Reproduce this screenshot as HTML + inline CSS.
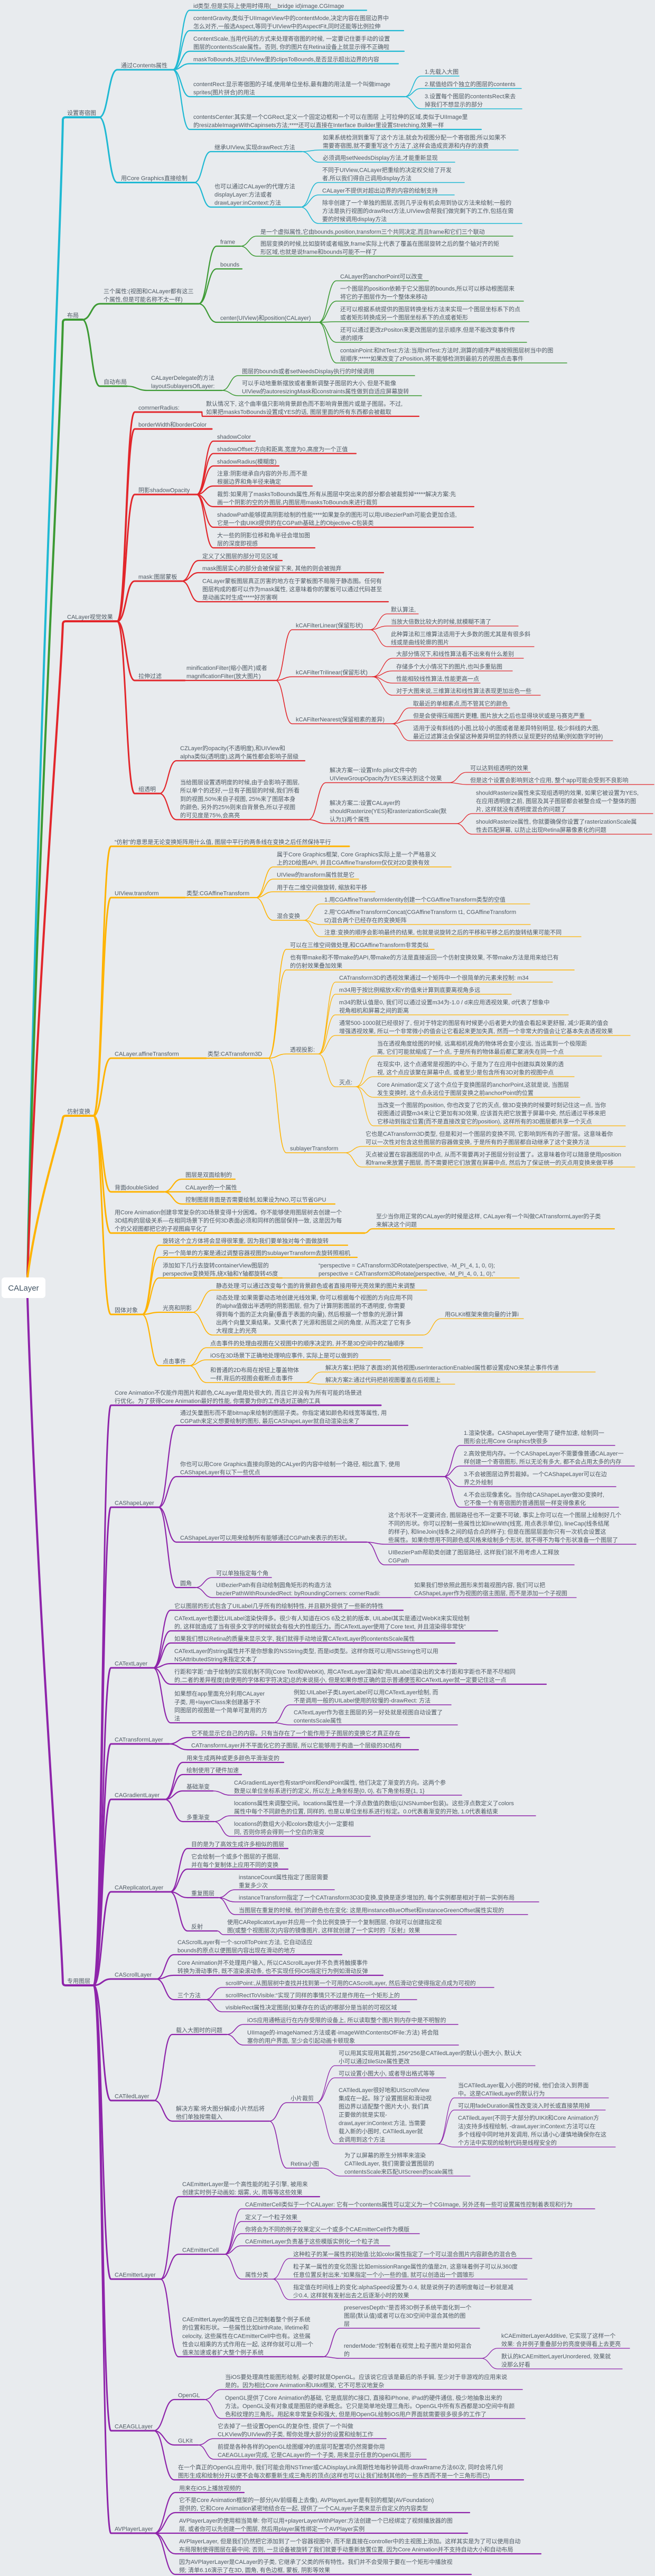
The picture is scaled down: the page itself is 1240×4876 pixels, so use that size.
<!DOCTYPE html>
<html><head><meta charset="utf-8">
<style>
html,body{margin:0;padding:0;background:#e8ebee;}
svg{display:block;}
text{font-family:"Liberation Sans","Noto Sans CJK SC",sans-serif;font-size:11px;fill:#4f5a64;}
</style></head>
<body>
<svg id="m" width="1240" height="4876" viewBox="0 0 1240 4876" xmlns="http://www.w3.org/2000/svg">
<rect width="1240" height="4876" fill="#e8ebee"/>
<g id="lines" fill="none" stroke-linecap="round"></g>
<g id="texts"></g>
<rect x="3" y="2418" width="83" height="39" rx="6" fill="#ffffff"/>
<text x="44.5" y="2443" text-anchor="middle" style="font-size:15px;fill:#3f5262">CALayer</text>
</svg>
<script>
function N(tx,uy,ex,t,k){return [tx,uy,ex,t,k||[]];}
var C1="#1fb9d3",C2="#3c9a33",C3="#e2262b",C4="#ffb300",C5="#8e24aa";
var tree=[
[C1,N(127,222,188,"设置寄宿图",[
 N(229,132,327,"通过Contents属性",[
  N(366,19.5,694,"id类型,但是实际上使用时得用(__bridge id)image.CGImage"),
  N(366,58,764,"contentGravity,类似于UIImageView中的contentMode,决定内容在图层边界中\n怎么对齐,一般选Aspect,等同于UIView中的AspectFit,同时还能等比例拉伸"),
  N(366,97,765,"ContentScale,当用代码的方式来处理寄宿图的时候, 一定要记住要手动的设置\n图层的contentsScale属性。否则, 你的图片在Retina设备上就显示得不正确啦"),
  N(366,120.6,754,"maskToBounds,对应UIView里的clipsToBounds,是否显示超出边界的内容"),
  N(366,183,766,"contentRect:显示寄宿图的子域,使用单位坐标,最有趣的用法是一个叫做image\nsprites(图片拼合)的用法",[
   N(804,144,869,"1.先载入大图"),
   N(804,167.5,987,"2.赋值给四个独立的图层的contents"),
   N(804,206,988,"3.设置每个图层的contentsRect来去\n掉我们不想显示的部分")]),
  N(366,245,911,"contentsCenter:其实是一个CGRect,定义一个固定边框和一个可以在图层 上可拉伸的区域,类似于UIImage里\n的resizableImageWithCapinsets方法;****还可以直接在Interface Builder里设置Stretching,效果一样")]),
 N(229,345.5,368,"用Core Graphics直接绘制",[
  N(406,287,571,"继承UIView,实现drawRect:方法",[
   N(611,284,981,"如果系统检测到重写了这个方法,就会为视图分配一个寄宿图;所以如果不\n需要寄宿图,就不要重写这个方法了,这样会造成资源和内存的浪费"),
   N(611,307,861,"必须调用setNeedsDisplay方法,才能重新显现")]),
  N(406,392,569,"也可以通过CALayer的代理方法\ndisplayLayer:方法或者\ndrawLayer:inContext:方法",[
   N(610,345.5,879,"不同于UIView,CALayer把重绘的决定权交给了开发\n者,所以我们得自己调用display方法"),
   N(610,369,860,"CALayer不提供对超出边界的内容的绘制支持"),
   N(610,423,988,"除非创建了一个单独的图层,否则几乎没有机会用到协议方法来绘制;一般的\n方法是执行视图的drawRect方法,UIView会帮我们做完剩下的工作,包括在需\n要的时候调用display方法")])])])],
[C2,N(127,605,156,"布局",[
 N(196,575,376,"三个属性:(视图和CALayer都有这三\n个属性,但是可能名称不太一样)",[
  N(417,466,455,"frame",[
   N(493,447,971,"是一个虚拟属性,它由bounds,position,transform三个共同决定,而且frame和它们三个联动"),
   N(493,485,971,"图层变换的时候,比如旋转或者缩放,frame实际上代表了覆盖在图层旋转之后的整个轴对齐的矩\n形区域,也就是说frame和bounds可能不一样了")]),
  N(417,509,458,"bounds"),
  N(417,610,603,"center(UIView)和position(CALayer)",[
   N(644,531.5,811,"CALayer的anchorPoint可以改变"),
   N(644,570,991,"一个图层的position依赖于它父图层的bounds,所以可以移动根图层来\n将它的子图层作为一个整体来移动"),
   N(644,609,1001,"还可以根据系统提供的图层转换坐标方法来实现一个图层坐标系下的点\n或者矩形转换成另一个图层坐标系下的点或者矩形"),
   N(644,648,997,"还可以通过更改zPositon来更改图层的显示顺序,但是不能改变事件传\n递的顺序"),
   N(644,687,1073,"containPoint:和hitTest:方法:当用hitTest:方法时,测算的顺序严格按照图层树当中的图\n层顺序;*****如果改变了zPosition,将不能够检测到最前方的视图点击事件")])]),
 N(196,731,240,"自动布局",[
  N(286,739,420,"CALayerDelegate的方法\nlayoutSublayersOfLayer:",[
   N(458,711,785,"图层的bounds或者setNeedsDisplay执行的时候调用"),
   N(458,749,798,"可以手动地重新摆放或者重新调整子图层的大小, 但是不能像\nUIView的autoresizingMask和constraints属性做到自适应屏幕旋转")])])])],
[C3,N(127,1176,222,"CALayer视觉效果",[
 N(262,780,382,"comrnerRadius:",[
  N(390,788,793,"默认情况下, 这个曲率值只影响背景颜色而不影响背景图片或是子图层。不过,\n如果把masksToBounds设置成YES的话, 图层里面的所有东西都会被截取")]),
 N(262,812,401,"borderWidth和borderColor"),
 N(262,936,372,"阴影shadowOpacity",[
  N(411,835,483,"shadowColor"),
  N(411,858.5,674,"shadowOffset:方向和距离,宽度为0,高度为一个正值"),
  N(411,882,528,"shadowRadius(模糊度)"),
  N(411,920,591,"注意:阴影继承自内容的外形,而不是\n根据边界和角半径来确定"),
  N(411,959,897,"裁剪:如果用了masksToBounds属性,所有从图层中突出来的部分都会被裁剪掉*****解决方案:先\n画一个阴影的空的外图层,内图层用masksToBounds来进行裁剪"),
  N(411,998,896,"shadowPath能够提高阴影绘制的性能****如果复杂的图形可以用UIBezierPath可能会更加合适,\n它是一个由UIKit提供的在CGPath基础上的Objective-C包装类"),
  N(411,1037,596,"大一些的阴影位移和角半径会增加图\n层的深度即视感")]),
 N(262,1100,344,"mask:图层蒙板",[
  N(383,1061,534,"定义了父图层的部分可见区域"),
  N(383,1084,726,"mask图层实心的部分会被保留下来, 其他的则会被抛弃"),
  N(383,1139,735,"CALayer蒙板图层真正厉害的地方在于蒙板图不局限于静态图。任何有\n图层构成的都可以作为mask属性, 这意味着你的蒙板可以通过代码甚至\n是动画实时生成*****好厉害啊")]),
 N(262,1288,350,"拉伸过滤",[
  N(353,1288,522,"minificationFilter(缩小图片)或者\nmagnificationFilter(放大图片)",[
   N(560,1192,700,"kCAFilterLinear(保留形状)",[
    N(740,1162,792,"默认算法,"),
    N(740,1185,981,"当放大倍数比较大的时候,就模糊不清了"),
    N(740,1224,1011,"此种算法和三维算法适用于大多数的图尤其是有很多斜\n线或是曲线轮廓的图片")]),
   N(560,1281,705,"kCAFilterTrilinear(保留形状)",[
    N(750,1246,991,"大部分情况下,和线性算法看不出来有什么差别"),
    N(750,1270,970,"存储多个大小情况下的图片,也叫多重贴图"),
    N(750,1293,909,"性能相较线性算法,性能更高一点"),
    N(750,1316,1023,"对于大图来说,三维算法和线性算法表现更加出色一些")]),
   N(560,1370,742,"kCAFilterNearest(保留相素的差异)",[
    N(782,1340,965,"取最近的单相素点,而不管其它的颜色"),
    N(782,1363,1119,"但是会使得压缩图片更糟, 图片放大之后也显得块状或是马赛克严重"),
    N(782,1402,1160,"适用于没有斜线的小图,比较小的图或者是差异特别明显, 极少斜线的大图,\n最近过滤算法会保留这种差异明显的特质以呈现更好的结果(例如数字时钟)")])])]),
 N(262,1502,302,"组透明",[
  N(341,1440,577,"CZLayer的opacity(不透明度),和UIView和\nalpha类似(透明度),这两个属性都会影响子层级"),
  N(341,1551.5,584,"当给图层设置透明度的时候,由于会影响子图层,\n所以单个的还好,一旦有子图层的时候,我们所看\n到的视图,50%来自子视图, 25%来了图层本身\n的颜色, 另外的25%则来自背景色,所以子视图\n的可见度是75%,会高亮",[
   N(624,1481.5,850,"解决方案一:设置Info.plist文件中的\nUIViewGroupOpacity为YES来达到这个效果",[
    N(890,1462,1004,"可以达到组透明的效果"),
    N(890,1485,1238,"但是这个设置会影响到这个应用, 整个app可能会受到不良影响")]),
   N(624,1559,864,"解决方案二:设置CALayer的\nshouldRasterize(YES)和rasterizationScale(默\n认为1)两个属性",[
    N(901,1540,1236,"shouldRasterize属性来实现组透明的效果, 如果它被设置为YES,\n在应用透明度之前, 图层及其子图层都会被整合成一个整体的图\n片, 这样就没有透明度混合的问题了"),
    N(901,1579,1234,"shouldRasterize属性, 你就要确保你设置了rasterizationScale属\n性去匹配屏幕, 以防止出现Retina屏幕像素化的问题")])])])])],
[C4,N(127,2112,177,"仿射变换",[
 N(217,1602,661,"“仿射”的意思是无论变换矩阵用什么值, 图层中平行的两条线在变换之后任然保持平行"),
 N(217,1699,350,"UIView.transform",[
  N(353,1699,484,"类型:CGAffineTransform",[
   N(524,1641,854,"属于Core Graphics框架, Core Graphics实际上是一个严格意义\n上的2D绘图API, 并且CGAffineTransform仅仅对2D变换有效"),
   N(524,1664,679,"UIView的transform属性就是它"),
   N(524,1688,710,"用于在二维空间做旋转, 缩放和平移"),
   N(524,1742,575,"混合变换",[
    N(614,1711,1003,"1.用CGAffineTransformIdentity创建一个CGAffineTransform类型的空值"),
    N(614,1750,1004,"2.用“CGAffineTransformConcat(CGAffineTransform t1, CGAffineTransform\nt2)混合两个已经存在的变换矩阵"),
    N(614,1773,1100,"注意:变换的顺序会影响最终的结果, 也就是说旋转之后的平移和平移之后的旋转结果可能不同")])])]),
 N(217,2003,390,"CALayer.affineTransform",[
  N(393,2003,508,"类型:CATransform3D",[
   N(549,1797,822,"可以在三维空间做处理,和CGAffineTransform非常类似"),
   N(549,1836,1087,"也有带make和不带make的API,带make的方法是直接返回一个仿射变换效果, 不带make方法是用来给已有\n的仿射效果叠加效果"),
   N(549,1995,603,"透视投影:",[
    N(642,1859,1046,"CATransform3D的透视效果通过一个矩阵中一个很简单的元素来控制: m34"),
    N(642,1882,968,"m34用于按比例缩放X和Y的值来计算到底要离视角多远"),
    N(642,1921,1076,"m34的默认值是0, 我们可以通过设置m34为-1.0 / d来应用透视效果, d代表了想象中\n视角相机和屏幕之间的距离"),
    N(642,1960,1193,"通常500-1000就已经很好了, 但对于特定的图层有时候更小后者更大的值会看起来更舒服, 减少距离的值会\n增强透视效果, 所以一个非常微小的值会让它看起来更加失真, 然而一个非常大的值会让它基本失去透视效果"),
    N(642,2057,674,"灭点:",[
     N(714,1999,1139,"当在透视角度绘图的时候, 远离相机视角的物体将会变小变远, 当远离到一个极限距\n离, 它们可能就缩成了一个点, 于是所有的物体最后都汇聚消失在同一个点"),
     N(714,2038,1087,"在现实中, 这个点通常是视图的中心, 于是为了在应用中创建拟真效果的透\n视, 这个点应该聚在屏幕中点, 或者至少是包含所有3D对象的视图中点"),
     N(714,2077,1098,"Core Animation定义了这个点位于变换图层的anchorPoint,这就是说, 当图层\n发生变换时, 这个点永远位于图层变换之前anchorPoint的位置"),
     N(714,2131,1184,"当改变一个图层的position, 你也改变了它的灭点, 做3D变换的时候要时刻记住这一点, 当你\n视图通过调整m34来让它更加有3D效果, 应该首先把它放置于屏幕中央, 然后通过平移来把\n它移动到指定位置(而不是直接改变它的position), 这样所有的3D图层都共享一个灭点")])]),
   N(549,2182,653,"sublayerTransform",[
    N(692,2170,1184,"它也是CATransform3D类型, 但是和对一个图层的变换不同, 它影响到所有的子图”层。这意味着你\n可以一次性对包含这些图层的容器做变换, 于是所有的子图层都自动继承了这个变换方法"),
    N(692,2209,1202,"灭点被设置在容器图层的中点, 从而不需要再对子图层分别设置了。这意味着你可以随意使用position\n和frame来放置子图层, 而不需要把它们放置在屏幕中点, 然后为了保证统一的灭点用变换来做平移")])])]),
 N(217,2256,310,"背面doubleSided",[
  N(351,2232,445,"图层是双面绘制的"),
  N(351,2256,455,"CALayer的一个属性"),
  N(351,2279,634,"控制图层背面是否需要绘制,如果设为NO,可以节省GPU")]),
 N(217,2334,690,"用Core Animation创建非常复杂的3D场景变得十分困难。你不能够使用图层树去创建一个\n3D结构的层级关系—在相同场景下的任何3D表面必须和同样的图层保持一致, 这是因为每\n个的父视图都把它的子视图扁平化了",[
  N(712,2326,1163,"至少当你用正常的CALayer的时候是这样, CALayer有一个叫做CATransformLayer的子类\n来解决这个问题")]),
 N(217,2488,269,"固体对象",[
  N(308,2357,658,"旋转这个立方体将会显得很笨重, 因为我们要单独对每个面做旋转"),
  N(308,2380,676,"另一个简单的方案是通过调整容器视图的sublayerTransform去旋转照相机"),
  N(308,2419,534,"添加如下几行去旋转containerView图层的\nperspective变换矩阵,绕X轴和Y轴都旋转45度",[
   N(603,2419,983,"“perspective = CATransform3DRotate(perspective, -M_PI_4, 1, 0, 0);\nperspective = CATransform3DRotate(perspective, -M_PI_4, 0, 1, 0);”")]),
  N(308,2484,364,"光亮和阴影",[
   N(409,2442,808,"静态处理:可以通过改变每个面的背景颜色或者直接用带光亮效果的图片来调整"),
   N(409,2527,801,"动态处理:如果需要动态地创建光线效果, 你可以根据每个视图的方向应用不同\n的alpha值做出半透明的阴影图层, 但为了计算阴影图层的不透明度, 你需要\n得到每个面的正太向量(垂直于表面的向量), 然后根据一个想象的光源计算\n出两个向量叉乘结果。叉乘代表了光源和图层之间的角度, 从而决定了它有多\n大程度上的光亮",[
    N(842,2496,991,"用GLKit框架来做向量的计算i")])]),
  N(308,2585,358,"点击事件",[
   N(398,2551,800,"点击事件的处理由视图在父视图中的顺序决定的, 并不是3D空间中的Z轴顺序"),
   N(398,2574,739,"iOS在3D场景下正确地处理响应事件, 实际上是可以做到的"),
   N(398,2617,577,"和普通的2D布局在按钮上覆盖物体\n一样,背后的视图会截断点击事件",[
    N(616,2597,1127,"解决方案1:把除了表面3的其他视图userInteractionEnabled属性都设置成NO来禁止事件传递"),
    N(616,2620,861,"解决方案2:通过代码把前视图覆盖在后视图上")])])])])],
[C5,N(127,3758,177,"专用图层",[
 N(217,2660,721,"Core Animation不仅能作用图片和颜色,CALayer是用处很大的, 而且它并没有为所有可能的场景进\n行优化。为了获得Core Animation最好的性能, 你需要为你的工作选对正确的工具"),
 N(217,2853,300,"CAShapeLayer",[
  N(341,2698,772,"通过矢量图形而不是bitmap来绘制的图层子类。你指定诸如颜色和线宽等属性, 用\nCGPath来定义想要绘制的图形, 最后CAShapeLayer就自动渲染出来了"),
  N(341,2795,840,"你也可以用Core Graphics直接向原始的CALyer的内容中绘制一个路径, 相比直下, 使用\nCAShapeLayer有以下一些优点",[
   N(878,2736,1164,"1.渲染快速。CAShapeLayer使用了硬件加速, 绘制同一\n图形会比用Core Graphics快很多"),
   N(878,2775,1201,"2.高效使用内存。一个CAShapeLayer不需要像普通CALayer一\n样创建一个寄宿图形, 所以无论有多大, 都不会占用太多的内存"),
   N(878,2814,1166,"3.不会被图层边界剪裁掉。一个CAShapeLayer可以在边\n界之外绘制"),
   N(878,2853,1171,"4.不会出现像素化。当你给CAShapeLayer做3D变换时,\n它不像一个有寄宿图的普通图层一样变得像素化")]),
  N(341,2919,694,"CAShapeLayer可以用来绘制所有能够通过CGPath来表示的形状。",[
   N(735,2923,1204,"这个形状不一定要闭合, 图层路径也不一定要不可破, 事实上你可以在一个图层上绘制好几个\n不同的形状。你可以控制一些属性比如lineWith(线宽, 用点表示单位), lineCap(线条结尾\n的样子), 和lineJoin(线条之间的结合点的样子); 但是在图层层面你只有一次机会设置这\n些属性。如果你想用不同颜色或风格来绘制多个形状, 就不得不为每个形状准备一个图层了"),
   N(735,2962,1087,"UIBezierPath帮助类创建了图层路径, 这样我们就不用考虑人工释放\nCGPath")]),
  N(341,3005,370,"圆角",[
   N(409,2986,514,"可以单独指定每个角"),
   N(409,3024,777,"UIBezierPath有自动绘制圆角矩形的构造方法\nbezierPathWithRoundedRect: byRoundingCorners: cornerRadii:",[
    N(784,3024,1091,"如果我们想依照此图形来剪裁视图内容, 我们可以把\nCAShapeLayer作为视图的宿主图层, 而不是添加一个子视图")])])]),
 N(217,3157,290,"CATextLayer",[
  N(330,3048,763,"它以图层的形式包含了UILabel几乎所有的绘制特性, 并且额外提供了一些新的特性"),
  N(330,3087,942,"CATextLayer也要比UILabel渲染快得多。很少有人知道在iOS 6及之前的版本, UILabel其实是通过WebKit来实现绘制\n的, 这样就造成了当有很多文字的时候就会有极大的性能压力。而CATextLayer使用了Core text, 并且渲染得非常快”"),
  N(330,3110,861,"如果我们想以Retina的质量来显示文字, 我们就得手动地设置CATextLayer的contentsScale属性"),
  N(330,3149,864,"CATextLayer的string属性并不是你想象的NSString类型, 而是id类型。这样你既可以用NSString也可以用\nNSAttributedString来指定文本了"),
  N(330,3188,1034,"行距和字距:“由于绘制的实现机制不同(Core Text和WebKit), 用CATextLayer渲染和“用UILabel渲染出的文本行距和字距也不是不尽相同\n的,二者的差异程度(由使用的字体和字符决定)总的来说挺小, 但是如果你想正确的显示普通便签和CATextLayer就一定要记住这一点"),
  N(330,3261,518,"如果想在app里面充分利用CALayer\n子类, 用+layerClass来创建基于不\n同图层的视图是一个简单可复用的方\n法",[
   N(556,3227,854,"例如:UILabel子类LayerLabel可以用CATextLayer绘制, 而\n不是调用一般的UILabel使用的较慢的-drawRect: 方法"),
   N(556,3265,866,"CATextLayer作为宿主图层的另一好处就是视图自动设置了\ncontentsScale属性")])]),
 N(217,3301,320,"CATransformLayer",[
  N(362,3289,775,"它不能显示它自己的内容。只有当存在了一个能作用于子图层的变换它才真正存在"),
  N(362,3312,792,"CATransformLayer并不平面化它的子图层, 所以它能够用于构造一个层级的3D结构")]),
 N(217,3406,312,"CAGradientLayer",[
  N(353,3336,537,"用来生成两种或更多颜色平滑渐变的"),
  N(353,3359,457,"绘制使用了硬件加速"),
  N(353,3390,403,"基础渐变",[
   N(443,3398,874,"CAGradientLayer也有startPoint和endPoint属性, 他们决定了渐变的方向。这两个参\n数是以单位坐标系进行的定义, 所以左上角坐标是{0, 0}, 右下角坐标是{1, 1}")]),
  N(353,3448,405,"多重渐变",[
   N(443,3437,1014,"locations属性来调整空间。locations属性是一个浮点数值的数组(以NSNumber包装)。这些浮点数定义了colors\n属性中每个不同颜色的位置, 同样的, 也是以单位坐标系进行标定。0.0代表着渐变的开始, 1.0代表着结束"),
   N(443,3476,701,"locations的数组大小和colors数组大小一定要相\n同, 否则你将会得到一个空白的渐变")])]),
 N(217,3581,322,"CAReplicatorLayer",[
  N(362,3499,545,"目的是为了高效生成许多相似的图层"),
  N(362,3538,545,"它会绘制一个或多个图层的子图层,\n并在每个复制体上应用不同的变换"),
  N(362,3592,413,"重复图层",[
   N(452,3577,633,"instanceCount属性指定了图层需要\n重复多少次"),
   N(452,3600,1020,"instanceTransform指定了一个CATransform3D3D变换,变换是逐步增加的, 每个实例都是相对于前一实例布局"),
   N(452,3624,999,"当图层在重复的时候, 他们的颜色也在变化: 这是用instanceBlueOffset和instanceGreenOffset属性实现的")]),
  N(362,3655,411,"反射",[
   N(430,3662,864,"使用CAReplicatorLayer并应用一个负比例变换于一个复制图层, 你就可以创建指定视\n图(或整个视图层次)内容的镜像图片, 这样就创建了一个实时的『反射』效果")])]),
 N(217,3746,296,"CAScrollLayer",[
  N(336,3700,647,"CAScrollLayer有一个-scrollToPoint:方法, 它自动适应\nbounds的原点以便图层内容出现在滑动的地方"),
  N(336,3739,725,"Core Animation并不处理用户输入, 所以CAScrollLayer并不负责将触摸事件\n转换为滑动事件, 既不渲染滚动条, 也不实现任何iOS指定行为例如滑动反弹"),
  N(336,3785,389,"三个方法",[
   N(427,3762,935,"scrollPoint:,从图层树中查找并找到第一个可用的CAScrollLayer, 然后滑动它使得指定点成为可视的"),
   N(427,3785,789,"scrollRectToVisible:“实现了同样的事情只不过是作用在一个矩形上的"),
   N(427,3808,776,"visibleRect属性决定图层(如果存在的话)的哪部分是当前的可视区域")])]),
 N(217,3976,292,"CATiledLayer",[
  N(333,3851,429,"载入大图时的问题",[
   N(468,3832,867,"iOS应用通畅运行在内存受限的设备上, 所以读取整个图片到内存中是不明智的"),
   N(468,3871,868,"UIImage的-imageNamed:方法或者-imageWithContentsOfFile:方法) 将会阻\n塞你的用户界面, 至少会引起动画卡顿现象")]),
  N(333,4015,510,"解决方案:将大图分解成小片然后将\n他们单独按需载入",[
   N(550,3980,599,"小片裁剪",[
    N(641,3910,1013,"可以用其实现用其裁剪,256*256是CATiledLayer的默认小图大小, 默认大\n小可以通过tileSize属性更改"),
    N(641,3933,844,"可以设置小图大小, 或者导出格式等等"),
    N(641,4058,829,"CATiledLayer很好地和UIScrollView\n集成在一起。除了设置图层和滑动视\n图边界以适配整个图片大小, 我们真\n正要做的就是实现-\ndrawLayer:inContext:方法, 当需要\n载入新的小图时, CATiledLayer就\n会调用到这个方法",[
     N(867,3971,1152,"当CATiledLayer载入小图的时候, 他们会淡入到界面\n中。这是CATiledLayer的默认行为"),
     N(867,3994,1146,"可以用fadeDuration属性改变淡入时长或直接禁用掉"),
     N(867,4064,1165,"CATiledLayer(不同于大部分的UIKit和Core Animation方\n法)支持多线程绘制, -drawLayer:inContext:方法可以在\n多个线程中同时地并发调用, 所以请小心谨慎地确保你在这\n个方法中实现的绘制代码是线程安全的")])]),
   N(550,4104,610,"Retina小图",[
    N(652,4119,890,"为了以屏幕的原生分辨率来渲染\nCATiledLayer, 我们需要设置图层的\ncontentsScale来匹配UIScreen的scale属性")])])]),
 N(217,4314,304,"CAEmitterLayer",[
  N(345,4158,605,"CAEmitterLayer是一个高性能的粒子引擎, 被用来\n创建实时例子动画如: 烟雾, 火, 雨等等这些效果"),
  N(345,4267,425,"CAEmitterCell",[
   N(464,4181,1126,"CAEmitterCell类似于一个CALayer: 它有一个contents属性可以定义为一个CGImage, 另外还有一些可设置属性控制着表现和行为"),
   N(464,4205,569,"定义了一个粒子效果"),
   N(464,4228,794,"你将会为不同的例子效果定义一个或多个CAEmitterCell作为模版"),
   N(464,4251,738,"CAEmitterLayer负责基于这些模版实例化一个粒子流"),
   N(464,4314,516,"属性分类",[
    N(555,4275,1007,"这种粒子的某一属性的初始值:比如color属性指定了一个可以混合图片内容颜色的混合色"),
    N(555,4314,998,"粒子某一属性的变化范围:比如emissionRange属性的值是2π, 这意味着例子可以从360度\n任意位置反射出来.“如果指定一个小一些的值, 就可以创造出一个圆锥形"),
    N(555,4353,1006,"指定值在时间线上的变化:alphaSpeed设置为-0.4, 就是说例子的透明度每过一秒就是减\n少0.4, 这样就有发射出去之后逐渐小时的效果")])]),
  N(345,4461,612,"CAEmitterLayer的属性它自己控制着整个例子系统\n的位置和形状。一些属性比如birthRate, lifetime和\ncelocity, 这些属性在CAEmitterCell中也有。这些属\n性会以相乘的方式作用在一起, 这样你就可以用一个\n值来加速或者扩大整个例子系统",[
   N(651,4407,908,"preservesDepth:“是否将3D例子系统平面化到一个\n图层(默认值)或者可以在3D空间中混合其他的图\n层"),
   N(651,4464,911,"renderMode:“控制着在视觉上粒子图片是如何混合\n的",[
    N(949,4445,1192,"kCAEmitterLayerAdditive, 它实现了这样一个\n效果: 合并例子重叠部分的亮度使得看上去更亮"),
    N(949,4484,1178,"默认的kCAEmitterLayerUnordered, 效果就\n没那么好看")])])]),
 N(217,4601,291,"CAEAGLLayer",[
  N(337,4542,387,"OpenGL",[
   N(426,4523,989,"当iOS要处理高性能图形绘制, 必要时就是OpenGL。应该说它应该是最后的杀手锏, 至少对于非游戏的应用来说\n是的。因为相比Core Animation和UIkit框架, 它不可思议地复杂"),
   N(426,4578,994,"OpenGL提供了Core Animation的基础, 它是底层的C接口, 直接和iPhone, iPad的硬件通信, 极少地抽象出来的\n方法。OpenGL没有对象或是图层的继承概念。它只是简单地处理三角形。OpenGL中所有东西都是3D空间中有颜\n色和纹理的三角形。用起来非常复杂和强大, 但是用OpenGL绘制iOS用户界面就需要很多很多的工作了")]),
  N(337,4628,375,"GLKit",[
   N(412,4616,731,"它去掉了一些设置OpenGL的复杂性, 提供了一个叫做\nCLKView的UIView的子类, 帮你处理大部分的设置和绘制工作"),
   N(412,4655,807,"前提是各种各样的OpenGL绘图缓冲的底层可配置项仍然需要你用\nCAEAGLLayer完成, 它是CALayer的一个子类, 用来显示任意的OpenGL图形")]),
  N(337,4694,991,"在一个真正的OpenGL应用中, 我们可能会用NSTimer或CADisplayLink周期性地每秒钟调用-drawRrame方法60次, 同时会将几何\n图形生成和绘制分开以便不会每次都重新生成三角形的顶点(这样也可以让我们绘制其他的一些东西而不是一个三角形而已)")]),
 N(217,4795,292,"AVPlayerLayer",[
  N(339,4718,462,"用来在iOS上播放视频的"),
  N(339,4756,889,"它不是Core Animation框架的一部分(AV前缀看上去像), AVPlayerLayer是有别的框架(AVFoundation)\n提供的, 它和Core Animation紧密地结合在一起, 提供了一个CALayer子类来显示自定义的内容类型"),
  N(339,4795,885,"AVPlayerLayer的使用相当简单: 你可以用+playerLayerWithPlayer:方法创建一个已经绑定了视频播放器的图\n层, 或者你可以先创建一个图层, 然后用player属性绑定一个AVPlayer实例"),
  N(339,4834,1024,"AVPlayerLayer, 但是我们仍然把它添加到了一个容器视图中, 而不是直接在controller中的主视图上添加。这样其实是为了可以使用自动\n布局限制使得图层在最中间; 否则, 一旦设备被旋转了我们就要手动重新放置位置, 因为Core Animation并不支持自动大小和自动布局"),
  N(339,4873,892,"因为AVPlayerLayer是CALayer的子类, 它继承了父类的所有特性。我们并不会受限于要在一个矩形中播放视\n频; 清单6.16演示了在3D, 圆角, 有色边框, 蒙板, 阴影等效果")])])]
];
var NS="http://www.w3.org/2000/svg";
var LG=document.getElementById("lines"),TG=document.getElementById("texts");
function path(d,c,w){var p=document.createElementNS(NS,"path");p.setAttribute("d",d);p.setAttribute("stroke",c);p.setAttribute("stroke-width",w);LG.appendChild(p);}
function txt(x,y,s){var t=document.createElementNS(NS,"text");t.setAttribute("x",x);t.setAttribute("y",y);t.textContent=s;TG.appendChild(t);}
var SW=[4,3,2.2,1.6,1.3,1.2];
function draw(n,px,py,c,d){
 var tx=n[0],uy=n[1],ex=n[2],lines=n[3].split("\n"),xs=tx-7,w=SW[Math.min(d,5)],dd;
 if(d===0){
  var sy=(uy>2440)?2457:2418;var sx=52;
  dd="M"+sx+" "+sy+" C"+(sx+18)+" "+(sy+(uy-sy)*0.45)+" "+(xs-6)+" "+(uy-(uy-sy)*0.12)+" "+(xs-1)+" "+(uy-(uy>sy?4:-4))+" Q"+xs+" "+uy+" "+(xs+4)+" "+uy+" L"+ex+" "+uy;
 } else {
  var mx=px+(xs-px)*0.5;
  dd="M"+px+" "+py+" C"+mx+" "+py+" "+mx+" "+uy+" "+xs+" "+uy+" L"+ex+" "+uy;
 }
 path(dd,c,w);
 var nl=lines.length;
 for(var i=0;i<nl;i++)txt(tx,uy-4.5-(nl-1-i)*15.6,lines[i]);
 var k=n[4];for(var j=0;j<k.length;j++)draw(k[j],ex,uy,c,d+1);
}
for(var b=0;b<tree.length;b++){var c=tree[b][0],n=tree[b][1];draw(n,0,0,c,0);}
</script>
</body></html>
